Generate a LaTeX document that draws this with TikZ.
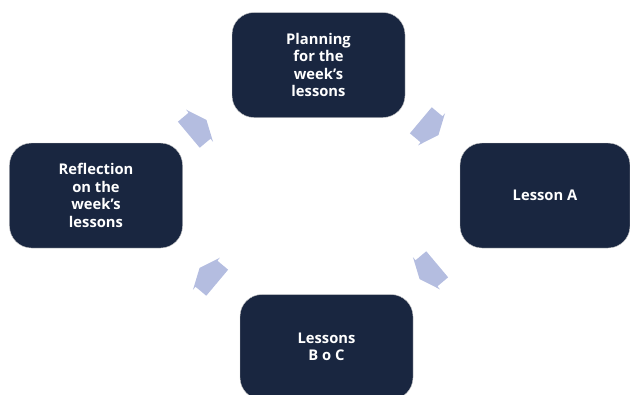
\documentclass[tikz,border=0pt]{standalone}
\usepackage{fontspec}
\setmainfont{Open Sans}
\usepackage{xcolor}
\usetikzlibrary{positioning,calc}

\definecolor{navy}{RGB}{25,38,64}
\definecolor{arrowblue}{RGB}{180,189,224}

\tikzset{
  stage/.style={fill=navy, draw=black!20, line width=0.4pt, rounded corners=22bp,
    minimum width=173bp, minimum height=105bp, inner sep=0pt,
    text=white, align=center, font=\fontsize{14.8}{17.5}\selectfont\bfseries},
  cyclearrow/.pic={
    \fill[arrowblue] (-12,-17) -- (2,-17) -- (2,-21) -- (11,0) -- (2,21)
      -- (2,17) -- (-12,17) -- cycle;
  }
}

\begin{document}
\begin{tikzpicture}[x=1bp,y=1bp]
        \useasboundingbox (0,0) rectangle (630,-394);
        % the four stages of the week
        \node[stage] (plan) at (318.5,-65) {Planning\\for the\\week’s\\lessons};
        \node[stage, minimum width=170bp] (lessA) at (545,-195.5) {Lesson A};
        \node[stage] (lessBC) at (326.5,-347) {Lessons\\B o C};
        \node[stage] (refl) at (96,-195.5) {Reflection\\on the\\week’s\\lessons};
        % arrows going round clockwise
        \pic[rotate=40] (refltoplan) at (198,-127) {cyclearrow};
        \pic[rotate=-40] (plantoA) at (430,-128) {cyclearrow};
        \pic[rotate=-140] (AtoBC) at (428,-272) {cyclearrow};
        \pic[rotate=140] (BCtorefl) at (208,-275) {cyclearrow};
    \end{tikzpicture}
\end{document}
